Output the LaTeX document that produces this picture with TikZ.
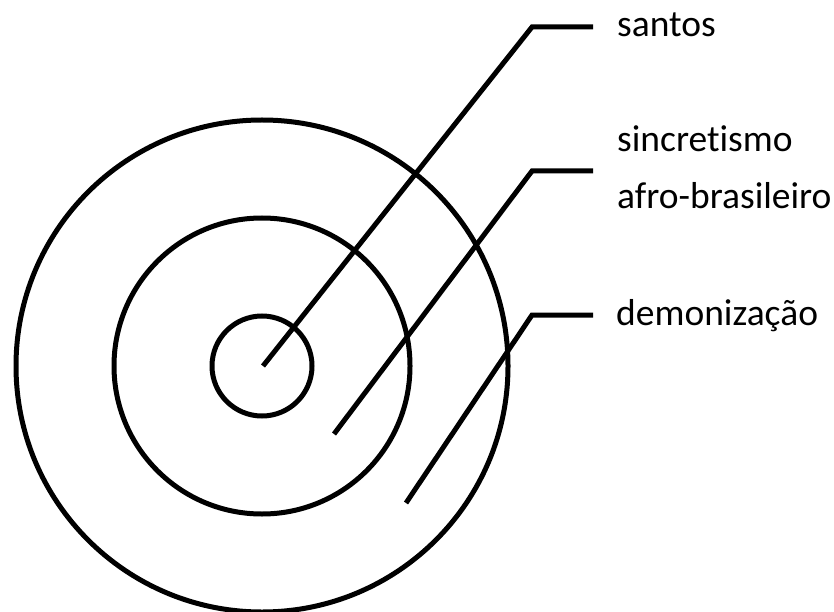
\documentclass[tikz,border=0pt]{standalone}
\usepackage{fontspec}
\setmainfont{Carlito}[Ligatures={NoCommon}]
\begin{document}
\begin{tikzpicture}[x=1pt,y=-1pt,
  ring/.style={draw=black,line width=5pt,circle,inner sep=0pt,outer sep=0pt},
  leader/.style={draw=black,line width=5pt,line join=miter,line cap=butt},
  lbl/.style={anchor=base west,inner sep=0pt,font=\fontsize{37.5}{56}\selectfont,align=left}]
\useasboundingbox (0,0) rectangle (834,612);
\node[ring,minimum size=492pt] (outer) at (262,366) {};
\node[ring,minimum size=296pt] (middle) at (262,366) {};
\node[ring,minimum size=100pt] (inner) at (262,366) {};
% santos
\coordinate (s0) at (263,366);
\coordinate (s1) at (532,27);
\coordinate (s2) at (593,27);
\node[lbl] (santos) at (617,37) {santos};
\draw[leader] (s0) -- (s1) -- (s2);
% sincretismo
\coordinate (c0) at (334,434);
\coordinate (c1) at (532,171);
\coordinate (c2) at (593,171);
\node[lbl] (sinc) at (617,152) {sincretismo};
\node[lbl] (afro) at (617,208) {afro-brasileiro};
\draw[leader] (c0) -- (c1) -- (c2);
% demonizacao
\coordinate (d0) at (406,503);
\coordinate (d1) at (532,315);
\coordinate (d2) at (593,315);
\node[lbl] (demo) at (616,325) {demonização};
\draw[leader] (d0) -- (d1) -- (d2);
\end{tikzpicture}
\end{document}
